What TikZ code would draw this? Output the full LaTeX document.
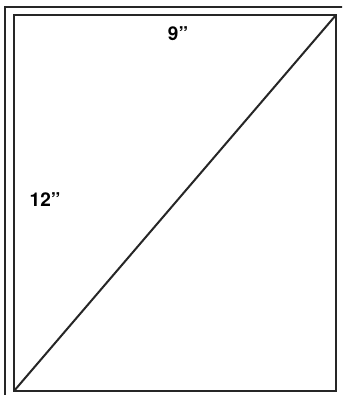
\documentclass[tikz,border=0pt]{standalone}
\usepackage{fontspec}
\setmainfont{TeX Gyre Heros}
\begin{document}
\begin{tikzpicture}[x=1pt,y=1pt,
  edge/.style={line width=2pt, black!85},
  lbl/.style={font=\fontsize{19}{22}\selectfont\bfseries, inner sep=0pt}]
\clip (0,0) rectangle (342,395);
\fill[white] (0,0) rectangle (342,395);
% outer frame (cut off at right and bottom)
\coordinate (ob) at (4.5,-5);
\coordinate (otl) at (4.5,388);
\coordinate (otr) at (350,388);
\draw[edge] (ob) -- (otl) -- (otr);
% inner rectangle
\node[draw, edge, minimum width=322, minimum height=376, inner sep=0pt, outer sep=0pt] (sheet) at (175,192) {};
\draw[edge] (sheet.south west) -- (sheet.north east);
\node[lbl] (w) at (178,361) {9”};
\node[lbl] (h) at (45,195) {12”};
\end{tikzpicture}
\end{document}
